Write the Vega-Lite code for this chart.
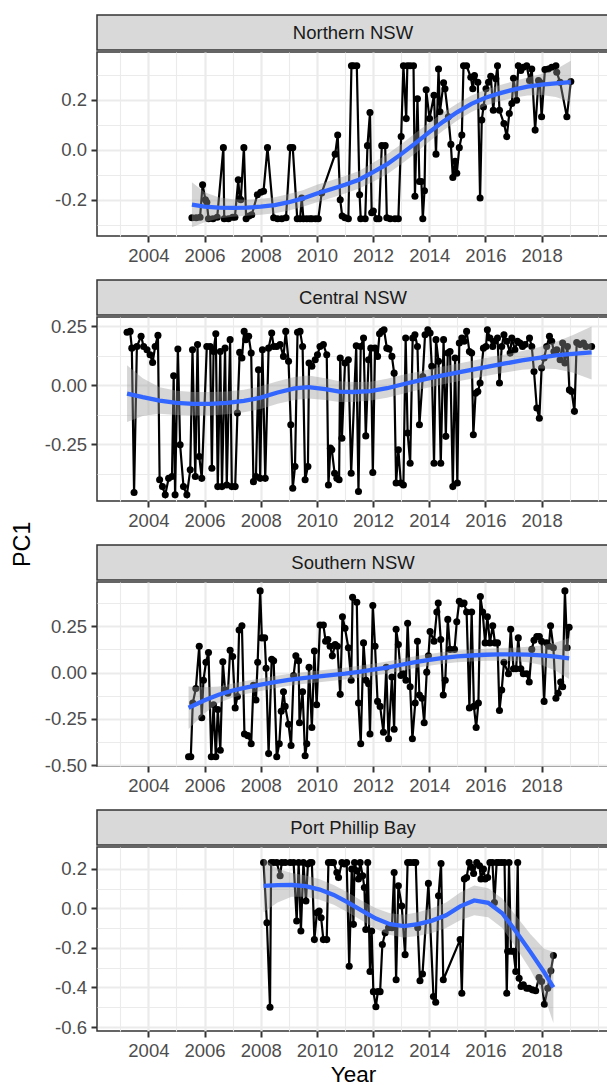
{
  "$schema": "https://vega.github.io/schema/vega-lite/v6.json",
  "padding": {"left": 11, "top": 14, "right": 0, "bottom": 0},
  "background": "white",
  "title": {"text": "PC1", "orient": "left", "anchor": "middle", "frame": "bounds", "fontSize": 23.4, "fontWeight": "normal", "color": "#000000", "font": "Liberation Sans", "offset": 8, "dx": 6},
  "config": {
    "font": "Liberation Sans",
    "concat": {"spacing": 0},
    "axis": {"domain": false, "grid": true, "gridColor": "#ebebeb", "tickColor": "#333333", "tickSize": 6, "tickWidth": 2, "labelColor": "#4d4d4d", "labelFontSize": 18.5, "labelFont": "Liberation Sans", "titleFont": "Liberation Sans", "titleFontSize": 22.5, "titleFontWeight": "normal", "titleColor": "#000000", "labelPadding": 4.5, "labelFlush": false, "labelOverlap": false}
  },
  "datasets": {
    "n_pts": [
      {"year":2005.55,"pc1":-0.272},{"year":2005.70,"pc1":-0.272},{"year":2005.84,"pc1":-0.27},{"year":2005.93,"pc1":-0.14},{"year":2006.03,"pc1":-0.2},{"year":2006.08,"pc1":-0.21},{"year":2006.14,"pc1":-0.276},{"year":2006.30,"pc1":-0.276},{"year":2006.45,"pc1":-0.27},{"year":2006.67,"pc1":0.008},{"year":2006.70,"pc1":-0.276},{"year":2006.85,"pc1":-0.276},{"year":2007.00,"pc1":-0.27},{"year":2007.08,"pc1":-0.27},{"year":2007.20,"pc1":-0.12},{"year":2007.25,"pc1":-0.196},{"year":2007.29,"pc1":-0.2},{"year":2007.40,"pc1":0.008},{"year":2007.48,"pc1":-0.276},{"year":2007.58,"pc1":-0.265},{"year":2007.68,"pc1":-0.26},{"year":2007.88,"pc1":-0.18},{"year":2008.00,"pc1":-0.17},{"year":2008.10,"pc1":-0.166},{"year":2008.24,"pc1":0.008},{"year":2008.46,"pc1":-0.272},{"year":2008.60,"pc1":-0.276},{"year":2008.75,"pc1":-0.276},{"year":2008.90,"pc1":-0.272},{"year":2009.05,"pc1":0.008},{"year":2009.14,"pc1":0.008},{"year":2009.30,"pc1":-0.276},{"year":2009.40,"pc1":-0.276},{"year":2009.46,"pc1":-0.193},{"year":2009.52,"pc1":-0.276},{"year":2009.64,"pc1":-0.276},{"year":2009.75,"pc1":-0.276},{"year":2009.82,"pc1":-0.276},{"year":2009.95,"pc1":-0.276},{"year":2010.05,"pc1":-0.276},{"year":2010.17,"pc1":-0.173},{"year":2010.65,"pc1":-0.018},{"year":2010.74,"pc1":0.058},{"year":2010.83,"pc1":-0.2},{"year":2010.90,"pc1":-0.265},{"year":2011.00,"pc1":-0.272},{"year":2011.12,"pc1":-0.276},{"year":2011.23,"pc1":0.335},{"year":2011.30,"pc1":0.335},{"year":2011.42,"pc1":0.335},{"year":2011.52,"pc1":-0.18},{"year":2011.56,"pc1":-0.276},{"year":2011.72,"pc1":-0.276},{"year":2011.80,"pc1":0.016},{"year":2011.89,"pc1":0.148},{"year":2011.95,"pc1":-0.252},{"year":2012.01,"pc1":-0.245},{"year":2012.13,"pc1":-0.276},{"year":2012.21,"pc1":-0.276},{"year":2012.31,"pc1":0.016},{"year":2012.43,"pc1":0.016},{"year":2012.49,"pc1":-0.272},{"year":2012.61,"pc1":-0.276},{"year":2012.78,"pc1":-0.276},{"year":2012.90,"pc1":-0.276},{"year":2013.00,"pc1":0.052},{"year":2013.08,"pc1":0.335},{"year":2013.18,"pc1":0.124},{"year":2013.22,"pc1":0.335},{"year":2013.32,"pc1":0.335},{"year":2013.44,"pc1":0.335},{"year":2013.49,"pc1":-0.186},{"year":2013.58,"pc1":0.203},{"year":2013.65,"pc1":-0.127},{"year":2013.72,"pc1":-0.127},{"year":2013.77,"pc1":-0.276},{"year":2013.83,"pc1":-0.164},{"year":2013.89,"pc1":0.239},{"year":2014.01,"pc1":0.124},{"year":2014.17,"pc1":0.217},{"year":2014.24,"pc1":-0.018},{"year":2014.33,"pc1":0.322},{"year":2014.38,"pc1":0.151},{"year":2014.51,"pc1":0.267},{"year":2014.56,"pc1":0.243},{"year":2014.68,"pc1":0.131},{"year":2014.77,"pc1":0.021},{"year":2014.84,"pc1":-0.111},{"year":2014.92,"pc1":-0.047},{"year":2014.98,"pc1":-0.094},{"year":2015.07,"pc1":0.008},{"year":2015.16,"pc1":0.058},{"year":2015.22,"pc1":0.335},{"year":2015.33,"pc1":0.335},{"year":2015.48,"pc1":0.289},{"year":2015.55,"pc1":0.243},{"year":2015.61,"pc1":0.296},{"year":2015.73,"pc1":0.269},{"year":2015.81,"pc1":-0.193},{"year":2015.87,"pc1":0.118},{"year":2015.93,"pc1":0.17},{"year":2016.02,"pc1":0.243},{"year":2016.11,"pc1":0.269},{"year":2016.19,"pc1":0.293},{"year":2016.28,"pc1":0.157},{"year":2016.37,"pc1":0.283},{"year":2016.43,"pc1":0.335},{"year":2016.50,"pc1":0.157},{"year":2016.66,"pc1":0.104},{"year":2016.76,"pc1":0.052},{"year":2016.85,"pc1":0.144},{"year":2016.94,"pc1":0.184},{"year":2017.00,"pc1":0.285},{"year":2017.11,"pc1":0.197},{"year":2017.17,"pc1":0.335},{"year":2017.26,"pc1":0.316},{"year":2017.35,"pc1":0.329},{"year":2017.47,"pc1":0.335},{"year":2017.57,"pc1":0.276},{"year":2017.65,"pc1":0.322},{"year":2017.77,"pc1":0.078},{"year":2017.89,"pc1":0.276},{"year":2017.94,"pc1":0.269},{"year":2018.00,"pc1":0.131},{"year":2018.12,"pc1":0.32},{"year":2018.24,"pc1":0.322},{"year":2018.36,"pc1":0.329},{"year":2018.51,"pc1":0.335},{"year":2018.54,"pc1":0.309},{"year":2018.66,"pc1":0.269},{"year":2018.90,"pc1":0.131},{"year":2019.04,"pc1":0.272}
    ],
    "n_fit": [
      {"year":2005.55,"pc1":-0.22,"lo":-0.31,"hi":-0.13},{"year":2006.0,"pc1":-0.228,"lo":-0.29,"hi":-0.17},{"year":2006.5,"pc1":-0.232,"lo":-0.275,"hi":-0.19},{"year":2007.0,"pc1":-0.233,"lo":-0.268,"hi":-0.198},{"year":2007.5,"pc1":-0.232,"lo":-0.264,"hi":-0.2},{"year":2008.0,"pc1":-0.228,"lo":-0.26,"hi":-0.196},{"year":2008.5,"pc1":-0.222,"lo":-0.254,"hi":-0.19},{"year":2009.0,"pc1":-0.21,"lo":-0.243,"hi":-0.177},{"year":2009.5,"pc1":-0.195,"lo":-0.228,"hi":-0.162},{"year":2010.0,"pc1":-0.175,"lo":-0.21,"hi":-0.14},{"year":2010.5,"pc1":-0.158,"lo":-0.193,"hi":-0.123},{"year":2011.0,"pc1":-0.14,"lo":-0.175,"hi":-0.105},{"year":2011.5,"pc1":-0.12,"lo":-0.155,"hi":-0.085},{"year":2012.0,"pc1":-0.09,"lo":-0.128,"hi":-0.052},{"year":2012.5,"pc1":-0.058,"lo":-0.098,"hi":-0.018},{"year":2013.0,"pc1":-0.018,"lo":-0.058,"hi":0.022},{"year":2013.5,"pc1":0.025,"lo":-0.015,"hi":0.065},{"year":2014.0,"pc1":0.07,"lo":0.032,"hi":0.108},{"year":2014.5,"pc1":0.112,"lo":0.076,"hi":0.148},{"year":2015.0,"pc1":0.15,"lo":0.116,"hi":0.184},{"year":2015.5,"pc1":0.183,"lo":0.15,"hi":0.216},{"year":2016.0,"pc1":0.207,"lo":0.175,"hi":0.239},{"year":2016.5,"pc1":0.225,"lo":0.193,"hi":0.257},{"year":2017.0,"pc1":0.24,"lo":0.207,"hi":0.273},{"year":2017.5,"pc1":0.252,"lo":0.216,"hi":0.288},{"year":2018.0,"pc1":0.26,"lo":0.218,"hi":0.302},{"year":2018.5,"pc1":0.265,"lo":0.21,"hi":0.32},{"year":2019.04,"pc1":0.27,"lo":0.19,"hi":0.355}
    ],
    "c_pts": [
      {"year":2003.24,"pc1":0.225},{"year":2003.35,"pc1":0.229},{"year":2003.41,"pc1":0.158},{"year":2003.49,"pc1":-0.454},{"year":2003.59,"pc1":0.165},{"year":2003.74,"pc1":0.208},{"year":2003.83,"pc1":0.165},{"year":2003.95,"pc1":0.151},{"year":2004.06,"pc1":0.13},{"year":2004.15,"pc1":0.097},{"year":2004.24,"pc1":0.165},{"year":2004.34,"pc1":0.212},{"year":2004.40,"pc1":-0.4},{"year":2004.50,"pc1":-0.429},{"year":2004.60,"pc1":-0.464},{"year":2004.72,"pc1":-0.394},{"year":2004.84,"pc1":-0.386},{"year":2004.90,"pc1":0.041},{"year":2004.95,"pc1":-0.464},{"year":2005.05,"pc1":0.154},{"year":2005.13,"pc1":-0.252},{"year":2005.25,"pc1":-0.429},{"year":2005.37,"pc1":-0.464},{"year":2005.49,"pc1":-0.358},{"year":2005.57,"pc1":0.151},{"year":2005.67,"pc1":-0.386},{"year":2005.75,"pc1":0.173},{"year":2005.81,"pc1":-0.301},{"year":2005.90,"pc1":-0.394},{"year":2006.08,"pc1":0.165},{"year":2006.20,"pc1":0.165},{"year":2006.26,"pc1":-0.351},{"year":2006.32,"pc1":0.144},{"year":2006.40,"pc1":0.219},{"year":2006.47,"pc1":-0.429},{"year":2006.56,"pc1":0.144},{"year":2006.62,"pc1":-0.429},{"year":2006.73,"pc1":0.158},{"year":2006.79,"pc1":-0.422},{"year":2006.91,"pc1":0.194},{"year":2006.97,"pc1":-0.429},{"year":2007.09,"pc1":-0.429},{"year":2007.17,"pc1":-0.117},{"year":2007.25,"pc1":0.14},{"year":2007.33,"pc1":0.116},{"year":2007.41,"pc1":0.229},{"year":2007.47,"pc1":0.194},{"year":2007.57,"pc1":0.208},{"year":2007.66,"pc1":0.137},{"year":2007.74,"pc1":-0.408},{"year":2007.83,"pc1":-0.386},{"year":2007.92,"pc1":0.066},{"year":2007.98,"pc1":-0.394},{"year":2008.06,"pc1":0.151},{"year":2008.16,"pc1":-0.394},{"year":2008.28,"pc1":0.158},{"year":2008.39,"pc1":0.222},{"year":2008.46,"pc1":0.165},{"year":2008.57,"pc1":0.165},{"year":2008.69,"pc1":0.173},{"year":2008.81,"pc1":0.123},{"year":2008.89,"pc1":0.229},{"year":2008.99,"pc1":0.102},{"year":2009.07,"pc1":-0.167},{"year":2009.14,"pc1":-0.436},{"year":2009.22,"pc1":-0.344},{"year":2009.31,"pc1":0.225},{"year":2009.40,"pc1":0.229},{"year":2009.49,"pc1":0.165},{"year":2009.58,"pc1":-0.4},{"year":2009.68,"pc1":-0.344},{"year":2009.72,"pc1":0.095},{"year":2009.82,"pc1":0.081},{"year":2009.94,"pc1":0.109},{"year":2010.02,"pc1":0.13},{"year":2010.11,"pc1":0.165},{"year":2010.23,"pc1":0.173},{"year":2010.35,"pc1":0.13},{"year":2010.41,"pc1":-0.422},{"year":2010.48,"pc1":-0.266},{"year":2010.53,"pc1":-0.273},{"year":2010.63,"pc1":-0.372},{"year":2010.71,"pc1":-0.394},{"year":2010.79,"pc1":-0.4},{"year":2010.83,"pc1":0.116},{"year":2010.89,"pc1":-0.224},{"year":2011.00,"pc1":0.095},{"year":2011.12,"pc1":0.109},{"year":2011.22,"pc1":-0.372},{"year":2011.40,"pc1":0.168},{"year":2011.48,"pc1":-0.45},{"year":2011.56,"pc1":0.165},{"year":2011.66,"pc1":0.201},{"year":2011.74,"pc1":-0.214},{"year":2011.84,"pc1":0.109},{"year":2011.92,"pc1":0.158},{"year":2011.99,"pc1":-0.369},{"year":2012.07,"pc1":0.158},{"year":2012.16,"pc1":0.123},{"year":2012.23,"pc1":0.219},{"year":2012.31,"pc1":0.229},{"year":2012.39,"pc1":0.236},{"year":2012.49,"pc1":0.158},{"year":2012.57,"pc1":0.154},{"year":2012.67,"pc1":0.123},{"year":2012.75,"pc1":0.052},{"year":2012.82,"pc1":-0.414},{"year":2012.90,"pc1":-0.273},{"year":2012.99,"pc1":-0.414},{"year":2013.08,"pc1":-0.422},{"year":2013.16,"pc1":0.201},{"year":2013.23,"pc1":-0.202},{"year":2013.32,"pc1":-0.33},{"year":2013.41,"pc1":0.201},{"year":2013.49,"pc1":0.215},{"year":2013.58,"pc1":0.165},{"year":2013.65,"pc1":-0.167},{"year":2013.77,"pc1":0.038},{"year":2013.85,"pc1":0.215},{"year":2013.95,"pc1":0.236},{"year":2014.03,"pc1":0.222},{"year":2014.09,"pc1":0.081},{"year":2014.17,"pc1":-0.33},{"year":2014.24,"pc1":0.194},{"year":2014.33,"pc1":0.102},{"year":2014.41,"pc1":-0.33},{"year":2014.51,"pc1":0.194},{"year":2014.59,"pc1":-0.216},{"year":2014.66,"pc1":0.137},{"year":2014.74,"pc1":0.144},{"year":2014.84,"pc1":-0.429},{"year":2014.92,"pc1":0.116},{"year":2015.00,"pc1":-0.414},{"year":2015.07,"pc1":0.18},{"year":2015.16,"pc1":0.201},{"year":2015.24,"pc1":0.187},{"year":2015.33,"pc1":0.229},{"year":2015.43,"pc1":0.144},{"year":2015.51,"pc1":0.137},{"year":2015.57,"pc1":-0.209},{"year":2015.65,"pc1":-0.033},{"year":2015.73,"pc1":-0.026},{"year":2015.81,"pc1":0.01},{"year":2015.93,"pc1":0.158},{"year":2016.02,"pc1":0.165},{"year":2016.07,"pc1":0.236},{"year":2016.16,"pc1":0.201},{"year":2016.26,"pc1":0.165},{"year":2016.34,"pc1":0.187},{"year":2016.43,"pc1":0.201},{"year":2016.50,"pc1":0.01},{"year":2016.58,"pc1":0.165},{"year":2016.66,"pc1":0.215},{"year":2016.76,"pc1":0.187},{"year":2016.88,"pc1":0.137},{"year":2016.94,"pc1":0.201},{"year":2017.05,"pc1":0.151},{"year":2017.14,"pc1":0.187},{"year":2017.23,"pc1":0.18},{"year":2017.32,"pc1":0.165},{"year":2017.41,"pc1":0.173},{"year":2017.57,"pc1":0.201},{"year":2017.65,"pc1":0.165},{"year":2017.73,"pc1":0.059},{"year":2017.83,"pc1":-0.096},{"year":2017.92,"pc1":-0.139},{"year":2018.00,"pc1":0.074},{"year":2018.09,"pc1":0.116},{"year":2018.18,"pc1":0.165},{"year":2018.28,"pc1":0.208},{"year":2018.36,"pc1":0.187},{"year":2018.44,"pc1":0.144},{"year":2018.54,"pc1":0.151},{"year":2018.66,"pc1":0.109},{"year":2018.75,"pc1":0.18},{"year":2018.83,"pc1":0.095},{"year":2018.92,"pc1":0.165},{"year":2018.99,"pc1":-0.019},{"year":2019.07,"pc1":-0.026},{"year":2019.17,"pc1":-0.11},{"year":2019.25,"pc1":0.182},{"year":2019.37,"pc1":0.173},{"year":2019.49,"pc1":0.18},{"year":2019.58,"pc1":0.165},{"year":2019.78,"pc1":0.165}
    ],
    "c_fit": [
      {"year":2003.24,"pc1":-0.035,"lo":-0.155,"hi":0.085},{"year":2003.8,"pc1":-0.05,"lo":-0.13,"hi":0.03},{"year":2004.4,"pc1":-0.064,"lo":-0.12,"hi":-0.008},{"year":2005.0,"pc1":-0.074,"lo":-0.125,"hi":-0.023},{"year":2005.6,"pc1":-0.078,"lo":-0.128,"hi":-0.028},{"year":2006.2,"pc1":-0.078,"lo":-0.128,"hi":-0.028},{"year":2006.8,"pc1":-0.074,"lo":-0.122,"hi":-0.026},{"year":2007.4,"pc1":-0.066,"lo":-0.114,"hi":-0.018},{"year":2008.0,"pc1":-0.052,"lo":-0.1,"hi":-0.004},{"year":2008.6,"pc1":-0.03,"lo":-0.078,"hi":0.018},{"year":2009.2,"pc1":-0.013,"lo":-0.062,"hi":0.036},{"year":2009.7,"pc1":-0.007,"lo":-0.056,"hi":0.042},{"year":2010.3,"pc1":-0.016,"lo":-0.062,"hi":0.03},{"year":2010.8,"pc1":-0.026,"lo":-0.07,"hi":0.018},{"year":2011.3,"pc1":-0.028,"lo":-0.07,"hi":0.014},{"year":2011.9,"pc1":-0.024,"lo":-0.064,"hi":0.016},{"year":2012.5,"pc1":-0.012,"lo":-0.052,"hi":0.028},{"year":2013.1,"pc1":0.006,"lo":-0.034,"hi":0.046},{"year":2013.7,"pc1":0.022,"lo":-0.016,"hi":0.06},{"year":2014.3,"pc1":0.038,"lo":0.0,"hi":0.076},{"year":2014.9,"pc1":0.052,"lo":0.014,"hi":0.09},{"year":2015.5,"pc1":0.066,"lo":0.028,"hi":0.104},{"year":2016.1,"pc1":0.08,"lo":0.042,"hi":0.118},{"year":2016.7,"pc1":0.093,"lo":0.055,"hi":0.131},{"year":2017.3,"pc1":0.106,"lo":0.066,"hi":0.146},{"year":2017.9,"pc1":0.117,"lo":0.072,"hi":0.162},{"year":2018.5,"pc1":0.127,"lo":0.07,"hi":0.184},{"year":2019.1,"pc1":0.134,"lo":0.055,"hi":0.213},{"year":2019.78,"pc1":0.14,"lo":0.025,"hi":0.25}
    ],
    "s_pts": [
      {"year":2005.43,"pc1":-0.455},{"year":2005.51,"pc1":-0.455},{"year":2005.58,"pc1":-0.165},{"year":2005.69,"pc1":-0.086},{"year":2005.81,"pc1":0.142},{"year":2005.90,"pc1":-0.244},{"year":2005.96,"pc1":-0.042},{"year":2006.05,"pc1":0.055},{"year":2006.14,"pc1":0.108},{"year":2006.24,"pc1":-0.455},{"year":2006.32,"pc1":-0.174},{"year":2006.40,"pc1":-0.455},{"year":2006.47,"pc1":-0.2},{"year":2006.56,"pc1":-0.42},{"year":2006.65,"pc1":0.058},{"year":2006.73,"pc1":-0.095},{"year":2006.83,"pc1":-0.112},{"year":2006.91,"pc1":0.12},{"year":2007.00,"pc1":0.086},{"year":2007.09,"pc1":-0.191},{"year":2007.17,"pc1":-0.13},{"year":2007.23,"pc1":0.23},{"year":2007.33,"pc1":0.253},{"year":2007.42,"pc1":-0.332},{"year":2007.54,"pc1":-0.341},{"year":2007.66,"pc1":-0.385},{"year":2007.74,"pc1":-0.069},{"year":2007.83,"pc1":-0.148},{"year":2007.89,"pc1":0.055},{"year":2007.98,"pc1":0.441},{"year":2008.04,"pc1":0.187},{"year":2008.14,"pc1":0.187},{"year":2008.19,"pc1":0.023},{"year":2008.28,"pc1":-0.438},{"year":2008.39,"pc1":0.072},{"year":2008.46,"pc1":0.063},{"year":2008.57,"pc1":-0.455},{"year":2008.66,"pc1":-0.385},{"year":2008.73,"pc1":-0.209},{"year":2008.81,"pc1":-0.104},{"year":2008.87,"pc1":-0.183},{"year":2008.99,"pc1":-0.28},{"year":2009.08,"pc1":-0.394},{"year":2009.17,"pc1":-0.016},{"year":2009.25,"pc1":0.09},{"year":2009.35,"pc1":0.063},{"year":2009.38,"pc1":-0.271},{"year":2009.49,"pc1":-0.104},{"year":2009.58,"pc1":-0.45},{"year":2009.64,"pc1":-0.385},{"year":2009.72,"pc1":0.028},{"year":2009.82,"pc1":-0.297},{"year":2009.91,"pc1":0.116},{"year":2009.99,"pc1":-0.174},{"year":2010.11,"pc1":0.257},{"year":2010.23,"pc1":0.257},{"year":2010.31,"pc1":0.169},{"year":2010.39,"pc1":0.178},{"year":2010.47,"pc1":0.142},{"year":2010.55,"pc1":0.09},{"year":2010.65,"pc1":0.151},{"year":2010.73,"pc1":0.142},{"year":2010.83,"pc1":-0.118},{"year":2010.91,"pc1":0.301},{"year":2011.00,"pc1":0.239},{"year":2011.12,"pc1":0.134},{"year":2011.22,"pc1":-0.042},{"year":2011.27,"pc1":0.406},{"year":2011.42,"pc1":0.38},{"year":2011.48,"pc1":-0.165},{"year":2011.56,"pc1":-0.385},{"year":2011.66,"pc1":0.16},{"year":2011.75,"pc1":-0.042},{"year":2011.84,"pc1":-0.06},{"year":2011.89,"pc1":-0.332},{"year":2011.99,"pc1":0.362},{"year":2012.07,"pc1":0.142},{"year":2012.16,"pc1":-0.156},{"year":2012.25,"pc1":-0.183},{"year":2012.37,"pc1":-0.323},{"year":2012.47,"pc1":0.028},{"year":2012.55,"pc1":-0.358},{"year":2012.67,"pc1":-0.024},{"year":2012.75,"pc1":-0.306},{"year":2012.82,"pc1":0.234},{"year":2012.90,"pc1":0.151},{"year":2012.99,"pc1":-0.016},{"year":2013.08,"pc1":-0.007},{"year":2013.17,"pc1":-0.042},{"year":2013.23,"pc1":0.266},{"year":2013.32,"pc1":-0.077},{"year":2013.40,"pc1":-0.358},{"year":2013.50,"pc1":-0.165},{"year":2013.58,"pc1":0.169},{"year":2013.65,"pc1":-0.121},{"year":2013.74,"pc1":-0.139},{"year":2013.82,"pc1":-0.271},{"year":2013.91,"pc1":0.002},{"year":2013.97,"pc1":0.09},{"year":2014.03,"pc1":0.222},{"year":2014.17,"pc1":0.169},{"year":2014.27,"pc1":0.327},{"year":2014.32,"pc1":0.375},{"year":2014.41,"pc1":0.178},{"year":2014.50,"pc1":-0.121},{"year":2014.57,"pc1":-0.042},{"year":2014.66,"pc1":0.287},{"year":2014.74,"pc1":0.125},{"year":2014.90,"pc1":0.125},{"year":2014.98,"pc1":0.274},{"year":2015.07,"pc1":0.385},{"year":2015.16,"pc1":0.371},{"year":2015.24,"pc1":0.375},{"year":2015.33,"pc1":0.327},{"year":2015.43,"pc1":-0.191},{"year":2015.51,"pc1":0.327},{"year":2015.59,"pc1":-0.183},{"year":2015.67,"pc1":-0.297},{"year":2015.75,"pc1":-0.165},{"year":2015.82,"pc1":0.41},{"year":2015.90,"pc1":0.327},{"year":2015.99,"pc1":0.16},{"year":2016.07,"pc1":0.301},{"year":2016.16,"pc1":0.16},{"year":2016.26,"pc1":0.253},{"year":2016.34,"pc1":0.16},{"year":2016.43,"pc1":0.16},{"year":2016.50,"pc1":-0.205},{"year":2016.58,"pc1":-0.095},{"year":2016.66,"pc1":0.055},{"year":2016.82,"pc1":-0.007},{"year":2016.90,"pc1":0.234},{"year":2017.00,"pc1":0.02},{"year":2017.09,"pc1":0.02},{"year":2017.17,"pc1":0.187},{"year":2017.26,"pc1":0.02},{"year":2017.35,"pc1":-0.007},{"year":2017.47,"pc1":-0.007},{"year":2017.56,"pc1":-0.051},{"year":2017.65,"pc1":0.125},{"year":2017.73,"pc1":0.174},{"year":2017.83,"pc1":0.195},{"year":2017.92,"pc1":0.195},{"year":2018.00,"pc1":0.169},{"year":2018.09,"pc1":-0.156},{"year":2018.18,"pc1":0.16},{"year":2018.26,"pc1":0.142},{"year":2018.32,"pc1":0.253},{"year":2018.42,"pc1":0.134},{"year":2018.51,"pc1":-0.139},{"year":2018.59,"pc1":-0.112},{"year":2018.68,"pc1":-0.051},{"year":2018.75,"pc1":-0.077},{"year":2018.83,"pc1":0.441},{"year":2018.91,"pc1":0.134},{"year":2018.98,"pc1":0.244}
    ],
    "s_fit": [
      {"year":2005.43,"pc1":-0.19,"lo":-0.305,"hi":-0.075},{"year":2006.0,"pc1":-0.15,"lo":-0.22,"hi":-0.08},{"year":2006.5,"pc1":-0.12,"lo":-0.165,"hi":-0.075},{"year":2007.0,"pc1":-0.097,"lo":-0.135,"hi":-0.059},{"year":2007.5,"pc1":-0.08,"lo":-0.115,"hi":-0.045},{"year":2008.0,"pc1":-0.066,"lo":-0.1,"hi":-0.032},{"year":2008.5,"pc1":-0.052,"lo":-0.085,"hi":-0.019},{"year":2009.0,"pc1":-0.04,"lo":-0.072,"hi":-0.008},{"year":2009.5,"pc1":-0.03,"lo":-0.062,"hi":0.002},{"year":2010.0,"pc1":-0.022,"lo":-0.054,"hi":0.01},{"year":2010.5,"pc1":-0.014,"lo":-0.046,"hi":0.018},{"year":2011.0,"pc1":-0.006,"lo":-0.038,"hi":0.026},{"year":2011.5,"pc1":0.004,"lo":-0.028,"hi":0.036},{"year":2012.0,"pc1":0.015,"lo":-0.017,"hi":0.047},{"year":2012.5,"pc1":0.027,"lo":-0.005,"hi":0.059},{"year":2013.0,"pc1":0.042,"lo":0.01,"hi":0.074},{"year":2013.5,"pc1":0.056,"lo":0.024,"hi":0.088},{"year":2014.0,"pc1":0.068,"lo":0.036,"hi":0.1},{"year":2014.5,"pc1":0.079,"lo":0.047,"hi":0.111},{"year":2015.0,"pc1":0.087,"lo":0.055,"hi":0.119},{"year":2015.5,"pc1":0.092,"lo":0.06,"hi":0.124},{"year":2016.0,"pc1":0.096,"lo":0.063,"hi":0.129},{"year":2016.5,"pc1":0.098,"lo":0.064,"hi":0.132},{"year":2017.0,"pc1":0.098,"lo":0.062,"hi":0.134},{"year":2017.5,"pc1":0.097,"lo":0.055,"hi":0.139},{"year":2018.0,"pc1":0.093,"lo":0.04,"hi":0.146},{"year":2018.5,"pc1":0.086,"lo":0.01,"hi":0.162},{"year":2018.98,"pc1":0.076,"lo":-0.035,"hi":0.187}
    ],
    "p_pts": [
      {"year":2008.10,"pc1":0.232},{"year":2008.22,"pc1":-0.073},{"year":2008.33,"pc1":-0.5},{"year":2008.37,"pc1":0.232},{"year":2008.45,"pc1":0.232},{"year":2008.57,"pc1":0.232},{"year":2008.69,"pc1":0.165},{"year":2008.75,"pc1":0.232},{"year":2008.87,"pc1":0.232},{"year":2009.05,"pc1":0.232},{"year":2009.17,"pc1":0.232},{"year":2009.28,"pc1":-0.064},{"year":2009.35,"pc1":0.232},{"year":2009.43,"pc1":-0.115},{"year":2009.52,"pc1":0.232},{"year":2009.61,"pc1":0.037},{"year":2009.68,"pc1":0.224},{"year":2009.76,"pc1":0.232},{"year":2009.82,"pc1":0.232},{"year":2009.91,"pc1":-0.158},{"year":2010.00,"pc1":-0.022},{"year":2010.08,"pc1":-0.014},{"year":2010.15,"pc1":-0.048},{"year":2010.23,"pc1":-0.158},{"year":2010.35,"pc1":-0.158},{"year":2010.41,"pc1":0.232},{"year":2010.51,"pc1":0.232},{"year":2010.59,"pc1":0.232},{"year":2010.71,"pc1":0.181},{"year":2010.77,"pc1":0.156},{"year":2010.89,"pc1":0.232},{"year":2010.98,"pc1":0.224},{"year":2011.06,"pc1":0.232},{"year":2011.15,"pc1":-0.293},{"year":2011.24,"pc1":0.199},{"year":2011.30,"pc1":-0.081},{"year":2011.34,"pc1":0.232},{"year":2011.42,"pc1":0.19},{"year":2011.48,"pc1":0.148},{"year":2011.54,"pc1":0.232},{"year":2011.63,"pc1":0.165},{"year":2011.69,"pc1":0.105},{"year":2011.74,"pc1":-0.107},{"year":2011.81,"pc1":0.232},{"year":2011.89,"pc1":-0.319},{"year":2011.95,"pc1":-0.115},{"year":2012.01,"pc1":-0.421},{"year":2012.10,"pc1":-0.497},{"year":2012.17,"pc1":-0.421},{"year":2012.25,"pc1":-0.421},{"year":2012.33,"pc1":-0.183},{"year":2012.43,"pc1":-0.124},{"year":2012.55,"pc1":-0.098},{"year":2012.67,"pc1":-0.098},{"year":2012.75,"pc1":0.181},{"year":2012.82,"pc1":-0.361},{"year":2012.90,"pc1":0.114},{"year":2013.02,"pc1":0.012},{"year":2013.14,"pc1":-0.234},{"year":2013.23,"pc1":0.232},{"year":2013.32,"pc1":0.232},{"year":2013.44,"pc1":0.232},{"year":2013.52,"pc1":0.232},{"year":2013.59,"pc1":-0.098},{"year":2013.67,"pc1":-0.366},{"year":2013.76,"pc1":-0.332},{"year":2013.97,"pc1":0.126},{"year":2014.15,"pc1":-0.446},{"year":2014.23,"pc1":-0.475},{"year":2014.33,"pc1":0.063},{"year":2014.42,"pc1":0.227},{"year":2014.50,"pc1":-0.361},{"year":2015.10,"pc1":-0.158},{"year":2015.16,"pc1":-0.429},{"year":2015.25,"pc1":0.148},{"year":2015.33,"pc1":0.156},{"year":2015.42,"pc1":0.232},{"year":2015.51,"pc1":0.207},{"year":2015.58,"pc1":0.176},{"year":2015.69,"pc1":0.232},{"year":2015.79,"pc1":0.215},{"year":2015.84,"pc1":0.148},{"year":2015.93,"pc1":0.199},{"year":2015.99,"pc1":0.148},{"year":2016.08,"pc1":0.156},{"year":2016.16,"pc1":0.232},{"year":2016.25,"pc1":0.232},{"year":2016.32,"pc1":0.029},{"year":2016.40,"pc1":0.232},{"year":2016.48,"pc1":0.232},{"year":2016.58,"pc1":0.232},{"year":2016.68,"pc1":0.232},{"year":2016.76,"pc1":-0.429},{"year":2016.79,"pc1":-0.217},{"year":2016.84,"pc1":0.232},{"year":2016.91,"pc1":-0.217},{"year":2017.00,"pc1":-0.217},{"year":2017.08,"pc1":-0.319},{"year":2017.15,"pc1":0.232},{"year":2017.20,"pc1":-0.353},{"year":2017.27,"pc1":-0.395},{"year":2017.35,"pc1":-0.387},{"year":2017.47,"pc1":-0.404},{"year":2017.55,"pc1":-0.404},{"year":2017.67,"pc1":-0.412},{"year":2017.79,"pc1":-0.417},{"year":2017.91,"pc1":-0.35},{"year":2018.00,"pc1":-0.37},{"year":2018.10,"pc1":-0.485},{"year":2018.22,"pc1":-0.404},{"year":2018.33,"pc1":-0.316},{"year":2018.42,"pc1":-0.238}
    ],
    "p_fit": [
      {"year":2008.10,"pc1":0.114,"lo":-0.02,"hi":0.25},{"year":2008.6,"pc1":0.117,"lo":0.03,"hi":0.2},{"year":2009.1,"pc1":0.118,"lo":0.058,"hi":0.178},{"year":2009.6,"pc1":0.112,"lo":0.058,"hi":0.166},{"year":2010.1,"pc1":0.095,"lo":0.043,"hi":0.147},{"year":2010.6,"pc1":0.068,"lo":0.018,"hi":0.118},{"year":2011.1,"pc1":0.03,"lo":-0.02,"hi":0.08},{"year":2011.6,"pc1":-0.012,"lo":-0.062,"hi":0.038},{"year":2012.1,"pc1":-0.052,"lo":-0.105,"hi":0.001},{"year":2012.6,"pc1":-0.08,"lo":-0.135,"hi":-0.025},{"year":2013.1,"pc1":-0.09,"lo":-0.148,"hi":-0.032},{"year":2013.6,"pc1":-0.08,"lo":-0.14,"hi":-0.02},{"year":2014.1,"pc1":-0.062,"lo":-0.125,"hi":0.001},{"year":2014.6,"pc1":-0.035,"lo":-0.1,"hi":0.03},{"year":2015.1,"pc1":0.01,"lo":-0.06,"hi":0.08},{"year":2015.6,"pc1":0.04,"lo":-0.035,"hi":0.115},{"year":2016.1,"pc1":0.028,"lo":-0.045,"hi":0.101},{"year":2016.6,"pc1":-0.025,"lo":-0.1,"hi":0.05},{"year":2017.1,"pc1":-0.12,"lo":-0.2,"hi":-0.04},{"year":2017.6,"pc1":-0.22,"lo":-0.31,"hi":-0.13},{"year":2018.1,"pc1":-0.325,"lo":-0.445,"hi":-0.205},{"year":2018.42,"pc1":-0.4,"lo":-0.58,"hi":-0.22}
    ]
  },
  "spacing": 0,
  "vconcat": [
    {"width": 512, "height": 35, "data": {"values": [{"label": "Northern NSW"}]}, "view": {"fill": "#d9d9d9", "stroke": "#333333", "strokeWidth": 1.5}, "mark": {"type": "text", "fontSize": 18.5, "color": "#1a1a1a", "font": "Liberation Sans"}, "encoding": {"text": {"field": "label"}}},
    {"width": 512, "height": 184, "view": {"stroke": "#333333", "strokeWidth": 1.5, "fill": "white"},
      "encoding": {
        "x": {"field": "year", "type": "quantitative", "scale": {"domain": [2002.17, 2020.4], "nice": false, "zero": false}, "axis": {"values": [2003,2004,2005,2006,2007,2008,2009,2010,2011,2012,2013,2014,2015,2016,2017,2018,2019,2020], "title": null, "minExtent": 42, "maxExtent": 42, "labelExpr": "(datum.value % 2 === 0 && datum.value <= 2018) ? datum.value + '' : ''", "tickOpacity": {"condition": {"test": "datum.value % 2 === 1 || datum.value > 2018", "value": 0}, "value": 1}, "gridWidth": {"condition": {"test": "datum.value % 2 === 1 || datum.value > 2018", "value": 1.1}, "value": 2.2}}},
        "y": {"field": "pc1", "type": "quantitative", "scale": {"domain": [-0.345, 0.39], "nice": false, "zero": false}, "axis": {"values": [-0.3,-0.2,-0.1,0,0.1,0.2,0.3], "title": null, "labelExpr": "abs(round(datum.value*10)) % 2 === 0 ? replace(format(datum.value, '.1f'), '\u2212', '-') : ''", "tickOpacity": {"condition": {"test": "abs(round(datum.value*10)) % 2 === 1", "value": 0}, "value": 1}, "gridWidth": {"condition": {"test": "abs(round(datum.value*10)) % 2 === 1", "value": 1.1}, "value": 2.2}}}
      },
      "layer": [
        {"data": {"name": "n_pts"}, "mark": {"type": "line", "color": "black", "strokeWidth": 2.2}},
        {"data": {"name": "n_pts"}, "mark": {"type": "circle", "color": "black", "size": 50, "opacity": 1}},
        {"data": {"name": "n_fit"}, "mark": {"type": "area", "color": "#999999", "opacity": 0.4, "clip": true}, "encoding": {"y": {"field": "lo", "type": "quantitative", "scale": {"domain": [-0.345, 0.39], "nice": false, "zero": false}, "axis": {"values": [-0.3,-0.2,-0.1,0,0.1,0.2,0.3], "title": null, "labelExpr": "abs(round(datum.value*10)) % 2 === 0 ? replace(format(datum.value, '.1f'), '\u2212', '-') : ''", "tickOpacity": {"condition": {"test": "abs(round(datum.value*10)) % 2 === 1", "value": 0}, "value": 1}, "gridWidth": {"condition": {"test": "abs(round(datum.value*10)) % 2 === 1", "value": 1.1}, "value": 2.2}}}, "y2": {"field": "hi"}}},
        {"data": {"name": "n_fit"}, "mark": {"type": "line", "color": "#3366FF", "strokeWidth": 4.3}}
      ]
    },
    {"width": 512, "height": 35, "data": {"values": [{"label": "Central NSW"}]}, "view": {"fill": "#d9d9d9", "stroke": "#333333", "strokeWidth": 1.5}, "mark": {"type": "text", "fontSize": 18.5, "color": "#1a1a1a", "font": "Liberation Sans"}, "encoding": {"text": {"field": "label"}}},
    {"width": 512, "height": 184, "view": {"stroke": "#333333", "strokeWidth": 1.5, "fill": "white"},
      "encoding": {
        "x": {"field": "year", "type": "quantitative", "scale": {"domain": [2002.17, 2020.4], "nice": false, "zero": false}, "axis": {"values": [2003,2004,2005,2006,2007,2008,2009,2010,2011,2012,2013,2014,2015,2016,2017,2018,2019,2020], "title": null, "minExtent": 42, "maxExtent": 42, "labelExpr": "(datum.value % 2 === 0 && datum.value <= 2018) ? datum.value + '' : ''", "tickOpacity": {"condition": {"test": "datum.value % 2 === 1 || datum.value > 2018", "value": 0}, "value": 1}, "gridWidth": {"condition": {"test": "datum.value % 2 === 1 || datum.value > 2018", "value": 1.1}, "value": 2.2}}},
        "y": {"field": "pc1", "type": "quantitative", "scale": {"domain": [-0.49, 0.29], "nice": false, "zero": false}, "axis": {"values": [-0.375,-0.25,-0.125,0,0.125,0.25], "title": null, "labelExpr": "abs(round(datum.value*8)) % 2 === 0 ? replace(format(datum.value, '.2f'), '\u2212', '-') : ''", "tickOpacity": {"condition": {"test": "abs(round(datum.value*8)) % 2 === 1", "value": 0}, "value": 1}, "gridWidth": {"condition": {"test": "abs(round(datum.value*8)) % 2 === 1", "value": 1.1}, "value": 2.2}}}
      },
      "layer": [
        {"data": {"name": "c_pts"}, "mark": {"type": "line", "color": "black", "strokeWidth": 2.2}},
        {"data": {"name": "c_pts"}, "mark": {"type": "circle", "color": "black", "size": 50, "opacity": 1}},
        {"data": {"name": "c_fit"}, "mark": {"type": "area", "color": "#999999", "opacity": 0.4, "clip": true}, "encoding": {"y": {"field": "lo", "type": "quantitative", "scale": {"domain": [-0.49, 0.29], "nice": false, "zero": false}, "axis": {"values": [-0.375,-0.25,-0.125,0,0.125,0.25], "title": null, "labelExpr": "abs(round(datum.value*8)) % 2 === 0 ? replace(format(datum.value, '.2f'), '\u2212', '-') : ''", "tickOpacity": {"condition": {"test": "abs(round(datum.value*8)) % 2 === 1", "value": 0}, "value": 1}, "gridWidth": {"condition": {"test": "abs(round(datum.value*8)) % 2 === 1", "value": 1.1}, "value": 2.2}}}, "y2": {"field": "hi"}}},
        {"data": {"name": "c_fit"}, "mark": {"type": "line", "color": "#3366FF", "strokeWidth": 4.3}}
      ]
    },
    {"width": 512, "height": 35, "data": {"values": [{"label": "Southern NSW"}]}, "view": {"fill": "#d9d9d9", "stroke": "#333333", "strokeWidth": 1.5}, "mark": {"type": "text", "fontSize": 18.5, "color": "#1a1a1a", "font": "Liberation Sans"}, "encoding": {"text": {"field": "label"}}},
    {"width": 512, "height": 184, "view": {"stroke": "#333333", "strokeWidth": 1.5, "fill": "white"},
      "encoding": {
        "x": {"field": "year", "type": "quantitative", "scale": {"domain": [2002.17, 2020.4], "nice": false, "zero": false}, "axis": {"values": [2003,2004,2005,2006,2007,2008,2009,2010,2011,2012,2013,2014,2015,2016,2017,2018,2019,2020], "title": null, "minExtent": 42, "maxExtent": 42, "labelExpr": "(datum.value % 2 === 0 && datum.value <= 2018) ? datum.value + '' : ''", "tickOpacity": {"condition": {"test": "datum.value % 2 === 1 || datum.value > 2018", "value": 0}, "value": 1}, "gridWidth": {"condition": {"test": "datum.value % 2 === 1 || datum.value > 2018", "value": 1.1}, "value": 2.2}}},
        "y": {"field": "pc1", "type": "quantitative", "scale": {"domain": [-0.505, 0.489], "nice": false, "zero": false}, "axis": {"values": [-0.5,-0.375,-0.25,-0.125,0,0.125,0.25,0.375], "title": null, "labelExpr": "abs(round(datum.value*8)) % 2 === 0 ? replace(format(datum.value, '.2f'), '\u2212', '-') : ''", "tickOpacity": {"condition": {"test": "abs(round(datum.value*8)) % 2 === 1", "value": 0}, "value": 1}, "gridWidth": {"condition": {"test": "abs(round(datum.value*8)) % 2 === 1", "value": 1.1}, "value": 2.2}}}
      },
      "layer": [
        {"data": {"name": "s_pts"}, "mark": {"type": "line", "color": "black", "strokeWidth": 2.2}},
        {"data": {"name": "s_pts"}, "mark": {"type": "circle", "color": "black", "size": 50, "opacity": 1}},
        {"data": {"name": "s_fit"}, "mark": {"type": "area", "color": "#999999", "opacity": 0.4, "clip": true}, "encoding": {"y": {"field": "lo", "type": "quantitative", "scale": {"domain": [-0.505, 0.489], "nice": false, "zero": false}, "axis": {"values": [-0.5,-0.375,-0.25,-0.125,0,0.125,0.25,0.375], "title": null, "labelExpr": "abs(round(datum.value*8)) % 2 === 0 ? replace(format(datum.value, '.2f'), '\u2212', '-') : ''", "tickOpacity": {"condition": {"test": "abs(round(datum.value*8)) % 2 === 1", "value": 0}, "value": 1}, "gridWidth": {"condition": {"test": "abs(round(datum.value*8)) % 2 === 1", "value": 1.1}, "value": 2.2}}}, "y2": {"field": "hi"}}},
        {"data": {"name": "s_fit"}, "mark": {"type": "line", "color": "#3366FF", "strokeWidth": 4.3}}
      ]
    },
    {"width": 512, "height": 35, "data": {"values": [{"label": "Port Phillip Bay"}]}, "view": {"fill": "#d9d9d9", "stroke": "#333333", "strokeWidth": 1.5}, "mark": {"type": "text", "fontSize": 18.5, "color": "#1a1a1a", "font": "Liberation Sans"}, "encoding": {"text": {"field": "label"}}},
    {"width": 512, "height": 184, "view": {"stroke": "#333333", "strokeWidth": 1.5, "fill": "white"},
      "encoding": {
        "x": {"field": "year", "type": "quantitative", "scale": {"domain": [2002.17, 2020.4], "nice": false, "zero": false}, "axis": {"values": [2003,2004,2005,2006,2007,2008,2009,2010,2011,2012,2013,2014,2015,2016,2017,2018,2019,2020], "title": "Year", "titlePadding": 3, "labelExpr": "(datum.value % 2 === 0 && datum.value <= 2018) ? datum.value + '' : ''", "tickOpacity": {"condition": {"test": "datum.value % 2 === 1 || datum.value > 2018", "value": 0}, "value": 1}, "gridWidth": {"condition": {"test": "datum.value % 2 === 1 || datum.value > 2018", "value": 1.1}, "value": 2.2}}},
        "y": {"field": "pc1", "type": "quantitative", "scale": {"domain": [-0.62, 0.31], "nice": false, "zero": false}, "axis": {"values": [-0.6,-0.5,-0.4,-0.3,-0.2,-0.1,0,0.1,0.2], "title": null, "labelExpr": "abs(round(datum.value*10)) % 2 === 0 ? replace(format(datum.value, '.1f'), '\u2212', '-') : ''", "tickOpacity": {"condition": {"test": "abs(round(datum.value*10)) % 2 === 1", "value": 0}, "value": 1}, "gridWidth": {"condition": {"test": "abs(round(datum.value*10)) % 2 === 1", "value": 1.1}, "value": 2.2}}}
      },
      "layer": [
        {"data": {"name": "p_pts"}, "mark": {"type": "line", "color": "black", "strokeWidth": 2.2}},
        {"data": {"name": "p_pts"}, "mark": {"type": "circle", "color": "black", "size": 50, "opacity": 1}},
        {"data": {"name": "p_fit"}, "mark": {"type": "area", "color": "#999999", "opacity": 0.4, "clip": true}, "encoding": {"y": {"field": "lo", "type": "quantitative", "scale": {"domain": [-0.62, 0.31], "nice": false, "zero": false}, "axis": {"values": [-0.6,-0.5,-0.4,-0.3,-0.2,-0.1,0,0.1,0.2], "title": null, "labelExpr": "abs(round(datum.value*10)) % 2 === 0 ? replace(format(datum.value, '.1f'), '\u2212', '-') : ''", "tickOpacity": {"condition": {"test": "abs(round(datum.value*10)) % 2 === 1", "value": 0}, "value": 1}, "gridWidth": {"condition": {"test": "abs(round(datum.value*10)) % 2 === 1", "value": 1.1}, "value": 2.2}}}, "y2": {"field": "hi"}}},
        {"data": {"name": "p_fit"}, "mark": {"type": "line", "color": "#3366FF", "strokeWidth": 4.3}}
      ]
    }
  ]
}
